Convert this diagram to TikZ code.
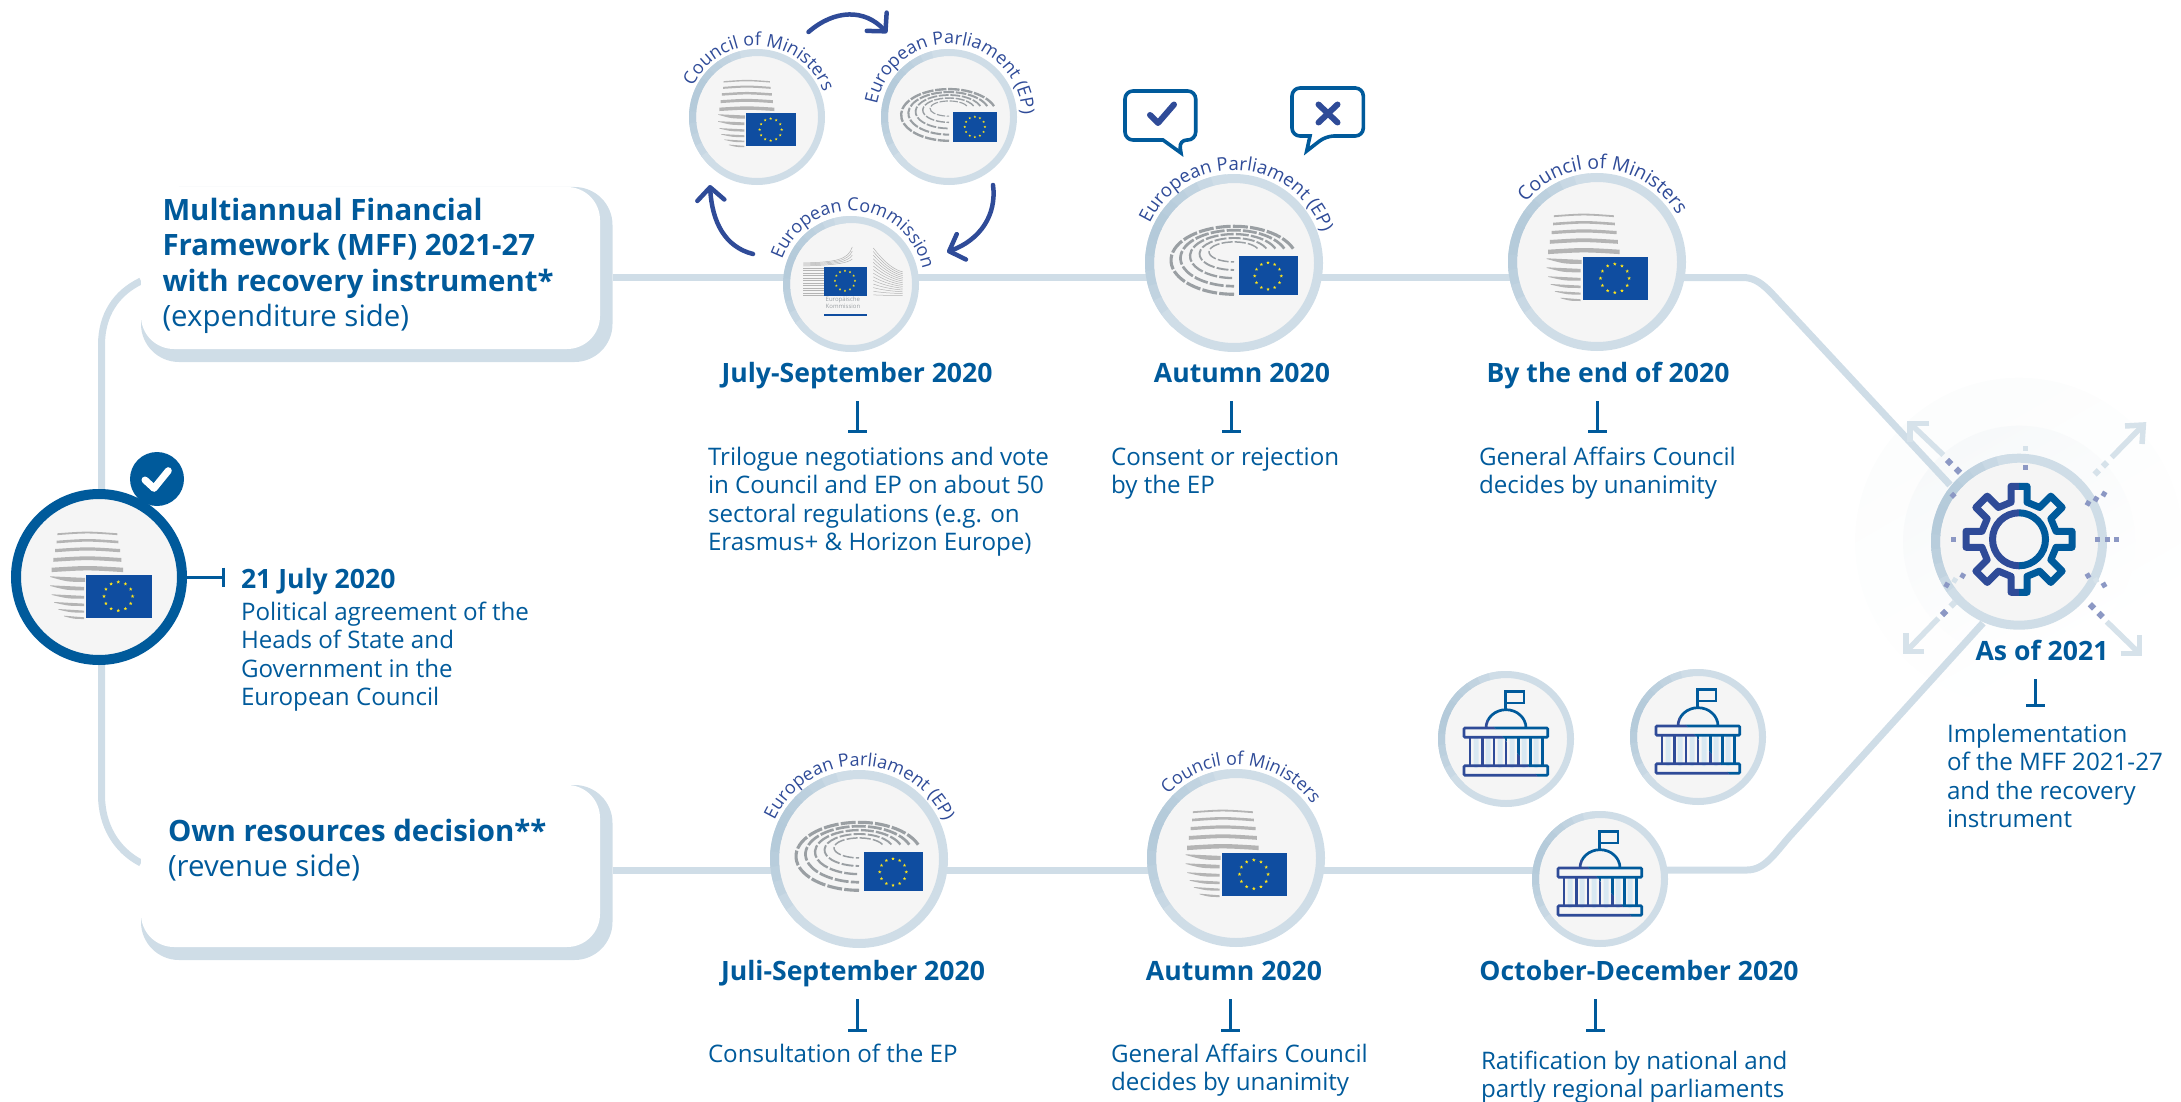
\documentclass[tikz,border=0pt]{standalone}
\usepackage{fontspec}
\setmainfont{Open Sans}
\usetikzlibrary{calc,backgrounds,arrows.meta,decorations.text}
\definecolor{ink}{HTML}{005A9B}
\definecolor{arcc}{HTML}{2F4B98}
\definecolor{ringc}{HTML}{CFDDE7}
\definecolor{ringd}{HTML}{B4CADA}
\definecolor{disc}{HTML}{F5F5F5}
\definecolor{flagc}{HTML}{0F4DA0}
\definecolor{starc}{HTML}{FFE51A}
\definecolor{stripe}{HTML}{B4B4B4}
\definecolor{epgrey}{HTML}{9A9FA3}
\definecolor{dots}{HTML}{8C98C4}
\definecolor{pale}{HTML}{D6E2EA}
\definecolor{band}{HTML}{D8E8F2}
\definecolor{haloa}{HTML}{FCFDFD}
\definecolor{halob}{HTML}{F7F9FA}
\newcommand\arcf{\fontsize{18}{18}\selectfont\color{arcc}}
\newcommand\arcg{\fontsize{18.6}{18}\selectfont\color{arcc}}
\newcommand\arch{\fontsize{19.4}{18}\selectfont\color{arcc}}
% flag: x1,y1,x2,y2,cx,cy,R
\newcommand\euflagbody[7]{%
  \fill[flagc] (#1,#2) rectangle (#3,#4);
  \foreach \a in {0,30,...,330}{
    \fill[starc,shift={(#5,#6)},shift={(\a:#7)},scale=#7*0.13]
      (90:1)--(126:.42)--(162:1)--(198:.42)--(234:1)--(270:.42)--(306:1)--(342:.42)--(18:1)--(54:.42)--cycle;
  }}
\newcommand\lens[4]{\fill[stripe] (#1,#3) .. controls ({(#1+#2)/2},{#3+2.2}) .. (#2,#3) -- (#2,{#3-#4}) .. controls ({(#1+#2)/2},{#3+2.2-#4}) .. (#1,{#3-#4}) -- cycle;}
\newcommand\lensb[4]{\fill[stripe] (#1,#3) .. controls ({(#1+#2)/2},{#3-1.6}) .. (#2,{#3-1.6}) -- (#2,{#3-1.6-#4}) .. controls ({(#1+#2)/2},{#3-1.6-#4}) .. (#1,{#3-.6}) -- cycle;}
\newcommand\parlshape{%
  \draw (-0.7,29.3) -- (-0.7,47.7) -- (18,47.7) -- (18,36) -- (-0.7,36);
  \draw (-20,11) arc[start angle=180,end angle=0,x radius=20,y radius=18.3];
  \draw[rounded corners=1] (-42,11) rectangle (41.7,1.7);
  \draw[rounded corners=1] (-42,-26.7) rectangle (41.7,-36.3);
  \foreach \x in {-36,-23.7,-12,0,12.3,24.7,36.3}{\draw (\x,1.7) -- (\x,-26.7);}}
\newcommand\shadering[3]{%
  \foreach \i in {0,...,12}{
    \pgfmathsetmacro\aa{95+10*\i}
    \pgfmathsetmacro\tt{100*sin(\i*15)}
    \draw[line width=#3,color=ringd!\tt!ringc] ($(#1)+(\aa:#2)$) arc[start angle=\aa,end angle=\aa+11,radius=#2];
  }}
% node, radius, middle angle, font macro, text
\newcommand\arclabel[5]{\path[decorate,decoration={text along path,text align=center,text={|#4|#5}}]
   ($(#1)+({#3+90}:#2)$) arc[start angle=#3+90,end angle=#3-90,radius=#2];}
\newcommand\sqm[4]{\fill[#4,shift={(#1,-#2)},rotate=#3] (-\sqs,-\sqs) rectangle (\sqs,\sqs);}
\tikzset{
  x=1pt,y=1pt,
  pics/council/.style={code={
    \lens{-41.7}{18.3}{43.7}{1.8}
    \lens{-42.3}{19.3}{36.3}{2.6}
    \lens{-44}{21}{28}{3.2}
    \lens{-45.7}{22.3}{19}{3.8}
    \lens{-47.3}{24}{9.3}{4.4}
    \lensb{-49}{-14}{0.7}{4}
    \lensb{-49}{-15}{-8.3}{3.4}
    \lensb{-47.3}{-15}{-17.3}{2.8}
    \lensb{-45}{-15}{-25}{2.4}
    \lensb{-40.7}{-15}{-32}{2}
    \lensb{-35}{-15}{-38.7}{1.7}
    \euflagbody{-13}{2.3}{52.7}{-41}{19.3}{-19.3}{14.3}
  }},
  pics/eparl/.style={code={
    \begin{scope}[scale=#1]
    \foreach \i in {0,...,4}{
      \pgfmathsetmacro\rx{63-9.5*\i}
      \pgfmathsetmacro\ry{34-6*\i}
      \pgfmathsetmacro\cy{2.7+2.1*\i}
      \pgfmathsetmacro\lw{(3.1-.4*\i)*#1}
      \pgfmathsetmacro\on{(15-\i)*#1}
      \pgfmathsetmacro\off{2.2*#1}
      \draw[epgrey,line width=\lw pt,dash pattern=on \on pt off \off pt]
        ({\rx*cos(20)},{\cy+\ry*sin(20)}) arc[start angle=20,end angle=270,x radius=\rx,y radius=\ry];
    }
    \euflagbody{4.7}{6.7}{63.7}{-32.3}{34}{-13}{13.3}
    \end{scope}
  }},
  pics/ecbuild/.style={code={
    \foreach \y/\t in {21/37,20/33,19/29,18/25}{
      \draw[stripe,line width=.5pt] (-47.7,\y) .. controls (-15,{\y+1}) and (-3,{\y+3}) .. (1.3,\t);
    }
    \foreach \y in {16,13.5,...,-11.7}{\draw[stripe,line width=.6pt] (-47.7,\y) -- (-27,\y);}
    \foreach \k in {0,...,13}{
      \pgfmathsetmacro\ya{36-3.6*\k}
      \pgfmathsetmacro\yb{12-1.8*\k}
      \pgfmathsetmacro\yc{\ya-10*(1-\k/14)}
      \pgfmathsetmacro\yd{\yb+3*(1-\k/14)}
      \draw[stripe,line width=.5pt] (22.3,\ya) .. controls (30,\yc) and (40,\yd) .. (51.7,\yb);
    }
    \euflagbody{-27}{17}{15.7}{-11.7}{-6}{3.3}{10}
    \node[anchor=base west,inner sep=0,text=epgrey,font=\fontsize{6}{7}\selectfont,align=left] (ectxt) at (-25.5,-24) {Europäische\\Kommission};
    \fill[flagc] (-27,-29.7) rectangle (15.7,-32.3);
  }},
  pics/parl/.style={code={
    \foreach \x in {-30,-18,-6,6,18,30}{\fill[band,rounded corners=2] ({\x-2.5},1.7) rectangle ({\x+2.5},-29);}
    \begin{scope}[line width=2.7pt]
      \begin{scope}
        \clip (-55,60) -- (51.8,-60) -- (80,-60) -- (80,60) -- cycle;
        \begin{scope}[ink]\parlshape\end{scope}
      \end{scope}
      \begin{scope}
        \clip (-55,60) -- (51.8,-60) -- (-80,-60) -- (-80,60) -- cycle;
        \begin{scope}[arcc]\parlshape\end{scope}
      \end{scope}
    \end{scope}
  }},
  disclarge/.style={circle,fill=disc,draw=ringc,line width=9pt,inner sep=0,outer sep=0,minimum size=169pt},
  discsmall/.style={circle,fill=disc,draw=ringc,line width=7pt,inner sep=0,outer sep=0,minimum size=129pt},
  boxshadow/.style={rectangle,fill=ringc,rounded corners=38pt,anchor=north west,inner sep=0,outer sep=0,minimum width=471.5pt,minimum height=175pt},
  boxwhite/.style={rectangle,fill=white,rounded corners=33pt,anchor=north west,inner sep=0,outer sep=0,minimum width=459pt,minimum height=162pt},
  link/.style={ringc,line width=7pt},
  teelink/.style={ink,line width=3pt,-{Bar[width=19pt,line width=3pt]},shorten <=13pt},
  titletxt/.style={anchor=base,inner sep=0,outer sep=0,text=ink,font=\fontsize{26.6}{30}\selectfont\bfseries,text height=20pt,text depth=6pt},
  bodytxt/.style={anchor=base west,inner sep=0,outer sep=0,text=ink,align=left,font=\fontsize{24.15}{28.6}\selectfont},
  headtxt/.style={anchor=base west,inner sep=0,outer sep=0,text=ink,align=left,font=\fontsize{29.4}{35.5}\selectfont},
  cyc/.style={arcc,line width=4.5pt,line cap=round,-{Straight Barb[length=13pt,width=27pt,round]}},
  bubble/.style={ink,line width=3.6pt,rounded corners=8pt,line join=miter},
  markline/.style={arcc,line width=6pt,line cap=round,line join=round},
  sprout/.style={pale,line width=5.5pt},
}
\begin{document}
\begin{tikzpicture}[x=1pt,y=1pt]
\useasboundingbox (0,0) rectangle (2181,-1102);
% named points on the tracks
\coordinate (up) at (0,-277.5);
\coordinate (low) at (0,-870);
\coordinate (upIn) at (1950,-485);
\coordinate (lowIn) at (1983,-623);
\coordinate (leftA) at (141,-281);
\coordinate (leftB) at (141,-863);

% boxes
\node[boxshadow] (box1s) at (141,-187) {};
\node[boxwhite] (box1) at (141,-187) {};
\node[boxshadow] (box2s) at (141,-785) {};
\node[boxwhite] (box2) at (141,-785) {};
\node[headtxt] (box1t) at (162.5,-326.5) {\bfseries Multiannual Financial\\\bfseries Framework (MFF) 2021-27\\\bfseries with recovery instrument*\\(expenditure side)};
\node[headtxt] (box2t) at (168,-876.5) {\bfseries Own resources decision**\\(revenue side)};

% discs
\node[discsmall] (cnS) at (757,-117) {};
\node[discsmall] (epS) at (949,-117) {};
\node[discsmall] (ecS) at (851,-284) {};
\node[disclarge] (epA) at (1234,-263) {};
\node[disclarge] (cnA) at (1597,-262) {};
\node[disclarge] (epB) at (859,-859) {};
\node[disclarge] (cnB) at (1236,-858) {};
\node[discsmall] (parL) at (1506,-739) {};
\node[discsmall] (parR) at (1698,-737) {};
\node[discsmall] (parB) at (1600,-879) {};
\node[circle,fill=disc,draw=ringc,line width=9pt,inner sep=0,outer sep=0,minimum size=167pt] (gear) at (2019,-541.7) {};
\node[circle,fill=disc,draw=ink,line width=10pt,inner sep=0,outer sep=0,minimum size=166pt] (chief) at (99,-577) {};
\node[circle,fill=ink,inner sep=0,outer sep=0,minimum size=54pt] (badge) at (157,-479) {};
\draw[white,line width=7pt,line cap=round,line join=round] ($(badge)+(-12,-1)$) -- ($(badge)+(-3,-9.3)$) -- ($(badge)+(11.3,8.3)$);

\shadering{cnS}{64.5}{7pt}
\shadering{epS}{64.5}{7pt}
\shadering{ecS}{64.5}{7pt}
\shadering{epA}{84.5}{9pt}
\shadering{cnA}{84.5}{9pt}
\shadering{epB}{84.5}{9pt}
\shadering{cnB}{84.5}{9pt}
\shadering{parL}{64.5}{7pt}
\shadering{parR}{64.5}{7pt}
\shadering{parB}{64.5}{7pt}
\shadering{gear}{83.5}{9pt}

% icons
\pic[scale=.77] at ($(cnS)+(-1.2,2.2)$) {council};
\pic at (epS) {eparl={.76}};
\pic at (ecS) {ecbuild};
\pic at (epA) {eparl={1}};
\pic at ($(cnA)+(-1.5,3)$) {council};
\pic at (epB) {eparl={1}};
\pic at ($(cnB)+(-1.5,3)$) {council};
\pic at (chief) {council};
\pic at (parL) {parl};
\pic at (parR) {parl};
\pic at (parB) {parl};

% gear
\begin{scope}[shift={(2019,-539.3)}]
  \foreach \side/\col/\xa/\xb in {0/arcc/-70/0,1/ink/0/70}{
    \begin{scope}
      \clip (\xa,-70) rectangle (\xb,70);
      \draw[\col,line width=7pt,line join=round]
        (-12.2:37.9) -- (-8.6:53.6) -- (8.6:53.6) -- (12.2:37.9) --
        (32.8:37.9) -- (36.4:53.6) -- (53.6:53.6) -- (57.2:37.9) --
        (77.8:37.9) -- (81.4:53.6) -- (98.6:53.6) -- (102.2:37.9) --
        (122.8:37.9) -- (126.4:53.6) -- (143.6:53.6) -- (147.2:37.9) --
        (167.8:37.9) -- (171.4:53.6) -- (188.6:53.6) -- (192.2:37.9) --
        (212.8:37.9) -- (216.4:53.6) -- (233.6:53.6) -- (237.2:37.9) --
        (257.8:37.9) -- (261.4:53.6) -- (278.6:53.6) -- (282.2:37.9) --
        (302.8:37.9) -- (306.4:53.6) -- (323.6:53.6) -- (327.2:37.9) -- cycle;
      \draw[\col,line width=7pt] (0,0) circle[radius=26.5];
    \end{scope}
  }
\end{scope}

% gear sprouts
\draw[sprout] (1929.3,-423.3) -- (1910,-423.3) -- (1910,-441.7);
\draw[sprout] (1943.3,-455) -- (1910,-423.3);
\draw[sprout] (2125,-426) -- (2143.3,-425) -- (2142,-444);
\draw[sprout] (2111.7,-457.3) -- (2143.3,-425);
\draw[sprout] (2120.7,-653.3) -- (2139.3,-653.3) -- (2139.3,-635);
\draw[sprout] (2106.7,-621.7) -- (2139.3,-653.3);
\draw[sprout] (1924,-651.7) -- (1906,-651.7) -- (1906,-633.3);
\draw[sprout] (1938.3,-618.3) -- (1906,-651.7);
\def\sqs{3}
\sqm{1949}{462}{45}{dots}\sqm{1958}{470.7}{45}{dots}
\sqm{2092}{606.3}{45}{dots}\sqm{2100.7}{615}{45}{dots}
\sqm{1944}{613}{45}{dots}\sqm{1952.7}{604.3}{45}{pale}
\sqm{2105}{464.3}{45}{pale}\sqm{2096.7}{472.3}{45}{pale}
\def\sqs{2.5}
\sqm{1953}{495.3}{45}{dots}
\sqm{2025.3}{467.3}{0}{dots}\sqm{2025.3}{448.3}{0}{pale}
\sqm{2104}{494}{60}{dots}\sqm{2096}{499}{60}{dots}\sqm{2088}{503.3}{60}{dots}
\sqm{2097.3}{539.3}{0}{dots}\sqm{2107}{539.3}{0}{dots}\sqm{2116.3}{539.3}{0}{dots}
\sqm{1953.3}{539.3}{0}{dots}
\sqm{2088}{575.7}{30}{dots}\sqm{2096}{580.3}{30}{pale}\sqm{2104}{585}{30}{dots}
\sqm{1962.7}{575.7}{60}{dots}\sqm{1954.7}{580.3}{60}{pale}\sqm{1946.7}{585}{60}{dots}

% speech bubbles
\draw[bubble] (1125,-91) -- (1195.7,-91) -- (1195.7,-140) -- (1179,-140) [sharp corners] -- (1181,-153) -- (1163,-140) [rounded corners=8pt] -- (1125,-140) -- cycle;
\draw[markline] (1150,-115) -- (1158,-123) -- (1174,-104.5);
\draw[bubble] (1292,-88) -- (1363.3,-88) -- (1363.3,-136) -- (1326,-136) [sharp corners] -- (1306.7,-151) -- (1310,-136) [rounded corners=8pt] -- (1292,-136) -- cycle;
\draw[markline] (1318.5,-104.5) -- (1337.5,-122.5);
\draw[markline] (1337.5,-104.5) -- (1318.5,-122.5);

% curved labels
\arclabel{cnS}{71}{87.5}{\arcf}{Council of Ministers}
\arclabel{epS}{73}{86}{\arcf}{European Parliament (EP)}
\arclabel{ecS}{73}{86}{\arcf}{European Commission}
\arclabel{epA}{93}{87}{\arcg}{European Parliament (EP)}
\arclabel{cnA}{93}{85}{\arch}{Council of Ministers}
\arclabel{epB}{93}{89.5}{\arcf}{European Parliament (EP)}
\arclabel{cnB}{93}{86}{\arcf}{Council of Ministers}

% cycle arrows
\coordinate (cycA1) at (808.5,-32);
\coordinate (cycA2) at (887,-33);
\coordinate (cycB1) at (993,-185);
\coordinate (cycB2) at (947,-252);
\coordinate (cycC1) at (753,-254);
\coordinate (cycC2) at (710,-185);
\draw[cyc] (cycA1) .. controls (835,-9) and (865,-9) .. (cycA2);
\draw[cyc] (cycB1) .. controls (997,-215) and (980,-240) .. (cycB2);
\draw[cyc] (cycC1) .. controls (725,-247) and (712,-222) .. (cycC2);

% titles
\node[titletxt] (ttl1) at (857,-382) {July-September 2020};
\node[titletxt] (ttl2) at (1242,-382) {Autumn 2020};
\node[titletxt] (ttl3) at (1608,-382) {By the end of 2020};
\node[titletxt] (ttl4) at (853,-980) {Juli-September 2020};
\node[titletxt] (ttl5) at (1234,-980) {Autumn 2020};
\node[titletxt] (ttl6) at (1639,-980) {October-December 2020};
\node[titletxt] (ttl7) at (2042,-660) {As of 2021};
\node[titletxt,anchor=base west] (ttl0) at (241,-588) {21 July 2020};

\coordinate (teeA) at (857,-433);
\coordinate (teeB) at (1231,-433);
\coordinate (teeC) at (1597,-433);
\coordinate (teeD) at (857,-1032);
\coordinate (teeE) at (1230,-1032);
\coordinate (teeF) at (1595.5,-1032);
\coordinate (teeG) at (2035,-707);
\coordinate (teeL) at (225,-577);
\draw[teelink] (ttl1.south -| teeA) -- (teeA);
\draw[teelink] (ttl2.south -| teeB) -- (teeB);
\draw[teelink] (ttl3.south -| teeC) -- (teeC);
\draw[teelink] (ttl4.south -| teeD) -- (teeD);
\draw[teelink] (ttl5.south -| teeE) -- (teeE);
\draw[teelink] (ttl6.south -| teeF) -- (teeF);
\draw[teelink] (ttl7.south -| teeG) -- (teeG);
\draw[teelink,shorten <=4pt] (chief.east) -- (teeL);

% body
\node[bodytxt] (txt1) at (708,-550.8) {Trilogue negotiations and vote\\in Council and EP on about 50\\sectoral regulations (e.g. on\\Erasmus+ \& Horizon Europe)};
\node[bodytxt] (txt2) at (1111,-493.6) {Consent or rejection\\by the EP};
\node[bodytxt] (txt3) at (1479,-493.6) {General Affairs Council\\decides by unanimity};
\node[bodytxt] (txt0) at (241,-705.8) {Political agreement of the\\Heads of State and\\Government in the\\European Council};
\node[bodytxt] (txt7) at (1947,-827.8) {Implementation\\of the MFF 2021-27\\and the recovery\\instrument};
\node[bodytxt] (txt4) at (708,-1062) {Consultation of the EP};
\node[bodytxt] (txt5) at (1111,-1090.6) {General Affairs Council\\decides by unanimity};
\node[bodytxt] (txt6) at (1481,-1097.6) {Ratification by national and\\partly regional parliaments};

% tracks behind everything
\begin{scope}[on background layer]
  \shade[shading=axis,left color=haloa,right color=white,shading angle=30] (gear) circle[radius=164];
  \shade[shading=axis,left color=halob,right color=white,shading angle=30] (gear) circle[radius=116];
  \draw[link] (leftA) .. controls (116,-293) and (101.5,-315) .. (101.5,-345) -- (101.5,-795) .. controls (101.5,-825) and (116,-850) .. (leftB);
  \draw[link] (box1s.east |- up) -- (ecS.west |- up);
  \draw[link] (ecS.east |- up) -- (epA.west |- up);
  \draw[link] (epA.east |- up) -- (cnA.west |- up);
  \draw[link] (cnA.east |- up) -- (1743,-277.5) .. controls (1760,-277.5) and (1770,-292) .. (1785,-307.6) -- (upIn);
  \draw[link] (box2s.east |- low) -- (epB.west |- low);
  \draw[link] (epB.east |- low) -- (cnB.west |- low);
  \draw[link] (cnB.east |- low) -- (parB.west |- low);
  \draw[link] (parB.east |- low) -- (1747,-870) .. controls (1765,-870) and (1775,-853) .. (1790,-836) -- (lowIn);
\end{scope}
\end{tikzpicture}
\end{document}
